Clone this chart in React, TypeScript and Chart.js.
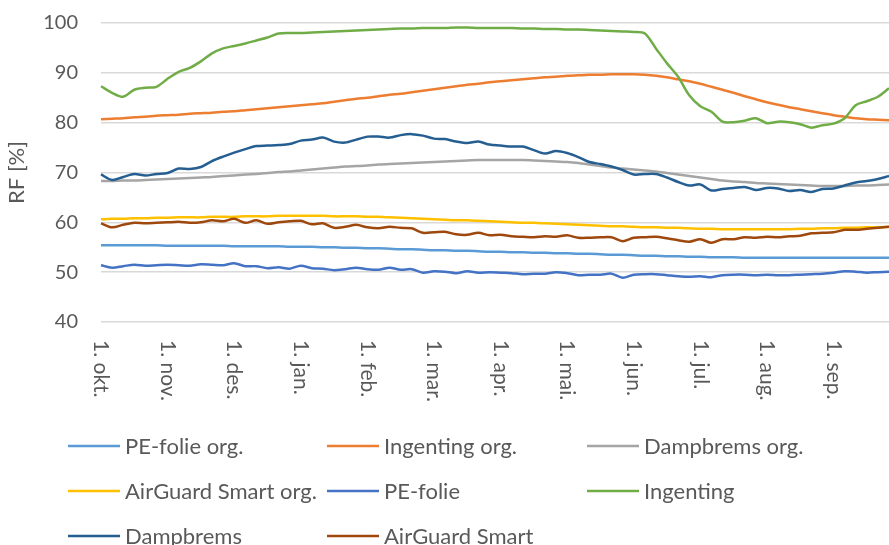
import React, { useEffect, useRef } from 'react';
import { Chart, registerables } from 'chart.js';

Chart.register(...registerables);

// Month tick labels (one every 6 samples)
const monthLabels = ['1. okt.', '1. nov.', '1. des.', '1. jan.', '1. feb.', '1. mar.', '1. apr.', '1. mai.', '1. jun.', '1. jul.', '1. aug.', '1. sep.'];
const samplesPerMonth = 6;

const peFolieOrg = [55.4, 55.4, 55.4, 55.4, 55.4, 55.4, 55.3, 55.3, 55.3, 55.3, 55.3, 55.3, 55.2, 55.2, 55.2, 55.2, 55.2, 55.1, 55.1, 55.1, 55.0, 55.0, 54.9, 54.9, 54.8, 54.8, 54.7, 54.6, 54.6, 54.5, 54.4, 54.4, 54.3, 54.3, 54.2, 54.1, 54.1, 54.0, 54.0, 53.9, 53.9, 53.8, 53.8, 53.7, 53.7, 53.6, 53.5, 53.5, 53.4, 53.3, 53.3, 53.2, 53.2, 53.1, 53.1, 53.0, 53.0, 53.0, 52.9, 52.9, 52.9, 52.9, 52.9, 52.9, 52.9, 52.9, 52.9, 52.9, 52.9, 52.9, 52.9, 52.9];

const ingentingOrg = [80.7, 80.8, 80.9, 81.1, 81.2, 81.4, 81.5, 81.6, 81.8, 81.9, 82.0, 82.2, 82.3, 82.5, 82.7, 82.9, 83.1, 83.3, 83.5, 83.7, 83.9, 84.2, 84.5, 84.8, 85.0, 85.3, 85.6, 85.8, 86.1, 86.4, 86.7, 87.0, 87.3, 87.6, 87.8, 88.1, 88.3, 88.5, 88.7, 88.9, 89.1, 89.2, 89.4, 89.5, 89.6, 89.6, 89.7, 89.7, 89.7, 89.6, 89.4, 89.1, 88.7, 88.3, 87.8, 87.2, 86.6, 86.0, 85.3, 84.7, 84.1, 83.6, 83.1, 82.7, 82.3, 81.9, 81.5, 81.2, 80.9, 80.7, 80.6, 80.5];

const dampbremsOrg = [68.3, 68.3, 68.4, 68.4, 68.5, 68.6, 68.7, 68.8, 68.9, 69.0, 69.1, 69.3, 69.4, 69.6, 69.7, 69.9, 70.1, 70.2, 70.4, 70.6, 70.8, 71.0, 71.2, 71.3, 71.4, 71.6, 71.7, 71.8, 71.9, 72.0, 72.1, 72.2, 72.3, 72.4, 72.5, 72.5, 72.5, 72.5, 72.5, 72.4, 72.3, 72.2, 72.1, 71.9, 71.6, 71.3, 71.0, 70.8, 70.6, 70.4, 70.2, 69.9, 69.6, 69.3, 69.0, 68.7, 68.4, 68.2, 68.1, 67.9, 67.8, 67.7, 67.6, 67.5, 67.4, 67.3, 67.3, 67.3, 67.4, 67.4, 67.5, 67.6];

const airGuardSmartOrg = [60.6, 60.7, 60.7, 60.8, 60.8, 60.9, 60.9, 61.0, 61.0, 61.0, 61.1, 61.1, 61.1, 61.2, 61.2, 61.2, 61.3, 61.3, 61.3, 61.3, 61.3, 61.2, 61.2, 61.2, 61.1, 61.1, 61.0, 60.9, 60.8, 60.7, 60.6, 60.5, 60.4, 60.4, 60.3, 60.2, 60.1, 60.0, 59.9, 59.9, 59.8, 59.7, 59.6, 59.5, 59.4, 59.3, 59.2, 59.2, 59.1, 59.0, 59.0, 58.9, 58.9, 58.8, 58.7, 58.7, 58.6, 58.6, 58.6, 58.6, 58.6, 58.6, 58.6, 58.7, 58.7, 58.8, 58.8, 58.9, 58.9, 59.0, 59.0, 59.1];

const peFolie = [51.4, 50.9, 51.2, 51.5, 51.3, 51.4, 51.5, 51.4, 51.3, 51.6, 51.5, 51.4, 51.8, 51.2, 51.2, 50.8, 51.0, 50.7, 51.3, 50.8, 50.7, 50.4, 50.6, 50.9, 50.6, 50.5, 50.9, 50.5, 50.6, 49.9, 50.2, 50.1, 49.8, 50.2, 49.9, 50.0, 49.9, 49.8, 49.6, 49.7, 49.7, 50.0, 49.8, 49.4, 49.5, 49.5, 49.7, 48.9, 49.5, 49.6, 49.6, 49.4, 49.2, 49.1, 49.2, 49.0, 49.4, 49.5, 49.5, 49.4, 49.5, 49.4, 49.4, 49.5, 49.6, 49.7, 49.9, 50.2, 50.1, 49.9, 50.0, 50.1];

const ingenting = [87.3, 86.0, 85.2, 86.6, 87.0, 87.2, 88.8, 90.2, 91.0, 92.3, 93.9, 94.9, 95.4, 95.9, 96.5, 97.1, 97.9, 98.0, 98.0, 98.1, 98.2, 98.3, 98.4, 98.5, 98.6, 98.7, 98.8, 98.9, 98.9, 99.0, 99.0, 99.0, 99.1, 99.1, 99.0, 99.0, 99.0, 99.0, 98.9, 98.9, 98.8, 98.8, 98.7, 98.7, 98.6, 98.5, 98.4, 98.3, 98.2, 97.9, 94.9, 91.9, 89.2, 85.5, 83.3, 82.2, 80.2, 80.1, 80.4, 80.9, 79.9, 80.2, 80.1, 79.7, 79.0, 79.5, 79.8, 80.9, 83.5, 84.3, 85.2, 86.9];

const dampbrems = [69.6, 68.5, 69.1, 69.7, 69.4, 69.7, 69.9, 70.8, 70.7, 71.1, 72.3, 73.2, 74.0, 74.7, 75.3, 75.4, 75.5, 75.7, 76.4, 76.6, 77.0, 76.2, 76.0, 76.6, 77.2, 77.2, 77.0, 77.5, 77.7, 77.4, 76.8, 76.7, 76.2, 75.9, 76.2, 75.6, 75.4, 75.2, 75.2, 74.5, 73.8, 74.3, 73.9, 73.1, 72.1, 71.7, 71.2, 70.5, 69.6, 69.7, 69.7, 69.0, 68.1, 67.4, 67.6, 66.4, 66.7, 66.9, 67.1, 66.5, 66.9, 66.8, 66.3, 66.5, 66.1, 66.7, 66.8, 67.4, 68.0, 68.3, 68.7, 69.3];

const airGuardSmart = [59.8, 59.0, 59.5, 59.9, 59.8, 59.9, 60.0, 60.1, 59.9, 60.0, 60.4, 60.2, 60.7, 59.9, 60.4, 59.7, 60.0, 60.2, 60.3, 59.6, 59.8, 58.9, 59.1, 59.5, 59.0, 58.8, 59.1, 58.9, 58.8, 57.9, 58.0, 58.1, 57.6, 57.5, 57.9, 57.4, 57.5, 57.2, 57.1, 57.0, 57.2, 57.1, 57.4, 56.9, 56.9, 57.0, 57.0, 56.2, 56.9, 57.0, 57.1, 56.8, 56.4, 56.1, 56.6, 55.9, 56.6, 56.6, 57.0, 56.9, 57.1, 57.0, 57.2, 57.3, 57.8, 57.9, 58.0, 58.5, 58.5, 58.7, 58.9, 59.1];

const seriesNames = ['PE-folie org.', 'Ingenting org.', 'Dampbrems org.', 'AirGuard Smart org.', 'PE-folie', 'Ingenting', 'Dampbrems', 'AirGuard Smart'];
const seriesColors = ['#5B9BD5', '#ED7D31', '#A5A5A5', '#FFC000', '#4472C4', '#70AD47', '#255E91', '#9E480E'];
const seriesValues = [peFolieOrg, ingentingOrg, dampbremsOrg, airGuardSmartOrg, peFolie, ingenting, dampbrems, airGuardSmart];

const categories = peFolieOrg.map((_, i) => (i % samplesPerMonth === 0 ? monthLabels[i / samplesPerMonth] : ''));

const TEXT = '#595959';
const FONT = 'Lato, "Open Sans", sans-serif';

const decorPlugin = {
  id: 'decor',
  afterDraw(chart: any) {
    const { ctx, chartArea } = chart;
    const x = chart.scales.x;
    ctx.save();
    ctx.fillStyle = TEXT;
    ctx.font = `21px ${FONT}`;
    ctx.textAlign = 'left';
    ctx.textBaseline = 'middle';
    categories.forEach((lab, i) => {
      if (!lab) return;
      const px = x.getPixelForValue(i);
      ctx.save();
      ctx.translate(px, chartArea.bottom + 18);
      ctx.rotate(Math.PI / 2);
      ctx.fillText(lab, 0, 0);
      ctx.restore();
    });
    // legend
    ctx.font = `22px ${FONT}`;
    const colX = [68, 327, 587];
    const rowY = [446, 491, 536];
    seriesNames.forEach((name, i) => {
      const c = i % 3;
      const r = Math.floor(i / 3);
      const lx = colX[c];
      const ly = rowY[r];
      ctx.strokeStyle = seriesColors[i];
      ctx.lineWidth = 2.5;
      ctx.beginPath();
      ctx.moveTo(lx, ly);
      ctx.lineTo(lx + 52, ly);
      ctx.stroke();
      ctx.fillStyle = TEXT;
      ctx.fillText(name, lx + 57, ly + 1);
    });
    ctx.restore();
  },
};

export default function App() {
  const ref = useRef<HTMLCanvasElement | null>(null);
  useEffect(() => {
    document.body.style.margin = '0';
    const canvas = ref.current;
    if (!canvas) return;
    const chart = new Chart(canvas, {
      type: 'line',
      data: {
        labels: categories,
        datasets: seriesValues.map((vals, i) => ({
          label: seriesNames[i],
          data: vals,
          borderColor: seriesColors[i],
          backgroundColor: seriesColors[i],
          borderWidth: 2.5,
          pointRadius: 0,
          tension: 0.3,
          fill: false,
          order: seriesValues.length - i,
        })),
      },
      options: {
        responsive: false,
        animation: false,
        devicePixelRatio: 1,
        layout: { padding: { top: 0, left: 0, right: 0, bottom: 223 } },
        plugins: { legend: { display: false }, tooltip: { enabled: false } },
        scales: {
          x: {
            type: 'category',
            offset: false,
            ticks: { display: false },
            grid: { display: false, drawTicks: false },
            border: { display: false },
          },
          y: {
            min: 40,
            max: 100,
            afterFit: (scale: any) => {
              scale.width = 101;
              scale.paddingTop = 23;
            },
            ticks: { stepSize: 10, color: TEXT, font: { family: FONT, size: 20 }, padding: 23 },
            grid: { color: '#D9D9D9', lineWidth: 1.5, drawTicks: false },
            border: { display: false },
            title: {
              display: true,
              text: 'RF [%]',
              color: TEXT,
              font: { family: FONT, size: 22 },
              padding: { top: 4, bottom: 14 },
            },
          },
        },
      },
      plugins: [decorPlugin],
    });
    return () => chart.destroy();
  }, []);
  return (
    <div style={{ width: 889, height: 545, position: 'relative', background: '#fff' }}>
      <canvas ref={ref} width={889} height={545} style={{ display: 'block' }} />
    </div>
  );
}
